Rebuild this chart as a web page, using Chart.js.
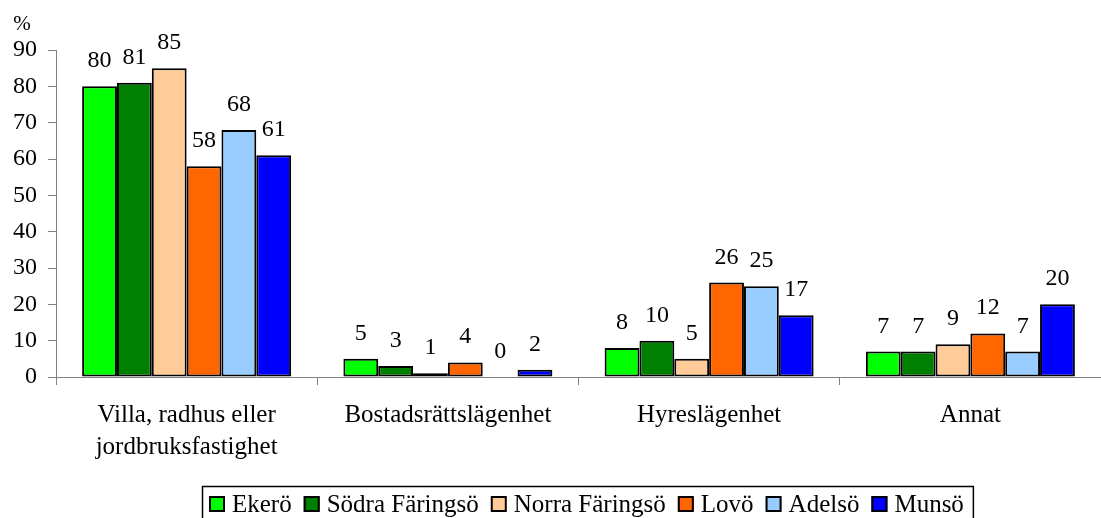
<!DOCTYPE html>
<html>
<head>
<meta charset="utf-8">
<script src="https://cdn.jsdelivr.net/npm/chart.js@4/dist/chart.umd.min.js"></script>
<style>
  html, body { margin: 0; padding: 0; background: #fff; }
  #wrap { width: 1101px; height: 518px; position: relative; }
</style>
</head>
<body>
<div id="wrap"><canvas id="c" width="1101" height="518"></canvas></div>
<script>
const categories = [["Villa, radhus eller", "jordbruksfastighet"], "Bostadsrättslägenhet", "Hyreslägenhet", "Annat"];
const seriesNames = ["Ekerö", "Södra Färingsö", "Norra Färingsö", "Lovö", "Adelsö", "Munsö"];
const seriesColors = ["#00FF00", "#008000", "#FFCC99", "#FF6600", "#99CCFF", "#0000FF"];
const ekero = [80, 5, 8, 7];
const sodraFaringso = [81, 3, 10, 7];
const norraFaringso = [85, 1, 5, 9];
const lovo = [58, 4, 26, 12];
const adelso = [68, 0, 25, 7];
const munso = [61, 2, 17, 20];
const yMax = 90;
const yStep = 10;
const yUnit = "%";

const seriesValues = [ekero, sodraFaringso, norraFaringso, lovo, adelso, munso];
const FONT = "'Liberation Serif', 'Times New Roman', serif";

const datasets = seriesNames.map((name, i) => ({
  label: name,
  data: seriesValues[i],
  backgroundColor: seriesColors[i],
  borderColor: "#000",
  borderWidth: (ctx) => (ctx.raw === 0 ? 0 : 2),
  borderSkipped: false,
  categoryPercentage: 0.8,
  barPercentage: 1.0
}));

const labelPlugin = {
  id: "valueLabels",
  afterDatasetsDraw(chart) {
    const ctx = chart.ctx;
    ctx.save();
    ctx.font = "24px " + FONT;
    ctx.fillStyle = "#000";
    ctx.textAlign = "center";
    ctx.textBaseline = "alphabetic";
    chart.data.datasets.forEach((ds, di) => {
      const meta = chart.getDatasetMeta(di);
      meta.data.forEach((bar, i) => {
        ctx.fillText(String(ds.data[i]), bar.x, bar.y - 19);
      });
    });
    ctx.font = "21px " + FONT;
    ctx.fillText(yUnit, 22, 30);
    ctx.restore();
  }
};

const legendPlugin = {
  id: "boxLegend",
  afterDraw(chart) {
    const ctx = chart.ctx;
    ctx.save();
    ctx.font = "25px " + FONT;
    const box = 16, gapBT = 7, gapItem = 12, padL = 7, padR = 9;
    const widths = seriesNames.map(n => ctx.measureText(n).width);
    let total = padL + padR;
    widths.forEach((w, i) => { total += box + gapBT + w + (i < widths.length - 1 ? gapItem : 0); });
    const left = 202;
    const top = 486;
    ctx.strokeStyle = "#000";
    ctx.lineWidth = 1.5;
    ctx.strokeRect(left + 0.5, top + 0.5, total, 60);
    const cy = 504;
    let x = left + padL;
    ctx.textBaseline = "middle";
    ctx.textAlign = "left";
    seriesNames.forEach((n, i) => {
      ctx.fillStyle = seriesColors[i];
      ctx.fillRect(x, cy - box / 2, box, box);
      ctx.lineWidth = 2;
      ctx.strokeStyle = "#000";
      ctx.strokeRect(x + 1, cy - box / 2 + 1, box - 2, box - 2);
      ctx.fillStyle = "#000";
      ctx.fillText(n, x + box + gapBT, cy + 1);
      x += box + gapBT + widths[i] + gapItem;
    });
    ctx.restore();
  }
};

new Chart(document.getElementById("c"), {
  type: "bar",
  data: { labels: categories, datasets },
  options: {
    responsive: false,
    animation: false,
    devicePixelRatio: 1,
    layout: { padding: { top: 50, left: 0, right: 0, bottom: 41 } },
    plugins: {
      legend: { display: false },
      tooltip: { enabled: false }
    },
    scales: {
      x: {
        offset: true,
        border: { color: "#808080", width: 1 },
        grid: { offset: true, drawOnChartArea: false, drawTicks: true, tickLength: 8, color: "#808080" },
        ticks: { color: "#000", font: { family: FONT, size: 25, lineHeight: 1.3 }, padding: 14, maxRotation: 0, autoSkip: false },
        afterFit(scale) { scale.height = 100; }
      },
      y: {
        min: 0,
        max: yMax,
        border: { color: "#808080", width: 1 },
        grid: { drawOnChartArea: false, drawTicks: true, tickLength: 8, color: "#808080" },
        ticks: { stepSize: yStep, color: "#000", font: { family: FONT, size: 24 }, padding: 11 },
        afterFit(scale) { scale.width = 56; }
      }
    }
  },
  plugins: [labelPlugin, legendPlugin]
});
</script>
</body>
</html>
